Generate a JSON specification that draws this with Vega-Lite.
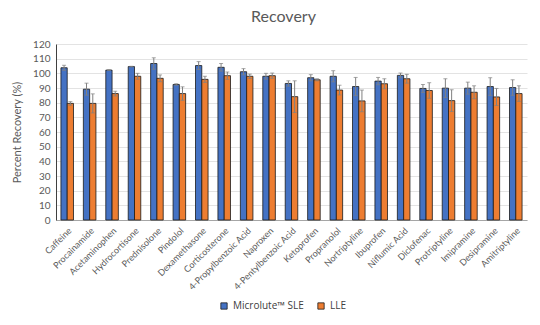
{
  "$schema": "https://vega.github.io/schema/vega-lite/v6.json",
  "width": 471,
  "height": 176,
  "autosize": {"type": "none"},
  "padding": {"left": 56, "top": 44, "right": 13, "bottom": 105},
  "background": "white",
  "title": {"text": "Recovery", "font": "Lato", "fontSize": 16, "fontWeight": "normal", "color": "#595959", "offset": 14, "dx": -8},
  "config": {
    "view": {"stroke": null},
    "font": "Lato",
    "axis": {"labelColor": "#595959", "titleColor": "#595959", "ticks": false, "labelFont": "Lato"},
    "axisY": {"title": "Percent Recovery (%)", "titleFontSize": 11, "titleFontWeight": "normal", "titlePadding": 10, "tickCount": 12, "labelOverlap": false, "labelFontSize": 10, "gridColor": "#e3e3e3", "domainColor": "#404040", "labelPadding": 6}
  },
  "data": {"values": [
    {"drug": "Caffeine", "method": "Microlute™ SLE", "value": 103.8, "lower": 102.1, "upper": 105.5},
    {"drug": "Caffeine", "method": "LLE", "value": 79.5, "lower": 78.3, "upper": 80.7},
    {"drug": "Procainamide", "method": "Microlute™ SLE", "value": 89.2, "lower": 85.1, "upper": 93.3},
    {"drug": "Procainamide", "method": "LLE", "value": 79.5, "lower": 73.0, "upper": 86.0},
    {"drug": "Acetaminophen", "method": "Microlute™ SLE", "value": 102.2, "lower": 101.9, "upper": 102.5},
    {"drug": "Acetaminophen", "method": "LLE", "value": 86.2, "lower": 84.6, "upper": 87.8},
    {"drug": "Hydrocortisone", "method": "Microlute™ SLE", "value": 104.6, "lower": 104.4, "upper": 104.8},
    {"drug": "Hydrocortisone", "method": "LLE", "value": 98.0, "lower": 96.0, "upper": 100.0},
    {"drug": "Prednisolone", "method": "Microlute™ SLE", "value": 106.7, "lower": 102.8, "upper": 110.6},
    {"drug": "Prednisolone", "method": "LLE", "value": 96.6, "lower": 94.3, "upper": 98.9},
    {"drug": "Pindolol", "method": "Microlute™ SLE", "value": 92.4, "lower": 91.9, "upper": 92.9},
    {"drug": "Pindolol", "method": "LLE", "value": 86.2, "lower": 81.6, "upper": 90.8},
    {"drug": "Dexamethasone", "method": "Microlute™ SLE", "value": 105.3, "lower": 102.6, "upper": 108.0},
    {"drug": "Dexamethasone", "method": "LLE", "value": 95.9, "lower": 93.8, "upper": 98.0},
    {"drug": "Corticosterone", "method": "Microlute™ SLE", "value": 104.1, "lower": 101.5, "upper": 106.7},
    {"drug": "Corticosterone", "method": "LLE", "value": 98.4, "lower": 95.9, "upper": 100.9},
    {"drug": "4-Propylbenzoic Acid", "method": "Microlute™ SLE", "value": 101.1, "lower": 99.0, "upper": 103.2},
    {"drug": "4-Propylbenzoic Acid", "method": "LLE", "value": 98.0, "lower": 96.5, "upper": 99.5},
    {"drug": "Naproxen", "method": "Microlute™ SLE", "value": 98.0, "lower": 96.0, "upper": 100.0},
    {"drug": "Naproxen", "method": "LLE", "value": 98.4, "lower": 96.6, "upper": 100.2},
    {"drug": "4-Pentylbenzoic Acid", "method": "Microlute™ SLE", "value": 93.1, "lower": 91.3, "upper": 94.9},
    {"drug": "4-Pentylbenzoic Acid", "method": "LLE", "value": 84.1, "lower": 73.3, "upper": 94.9},
    {"drug": "Ketoprofen", "method": "Microlute™ SLE", "value": 97.0, "lower": 94.9, "upper": 99.1},
    {"drug": "Ketoprofen", "method": "LLE", "value": 95.6, "lower": 94.9, "upper": 96.3},
    {"drug": "Propranolol", "method": "Microlute™ SLE", "value": 98.0, "lower": 94.2, "upper": 101.8},
    {"drug": "Propranolol", "method": "LLE", "value": 88.6, "lower": 85.3, "upper": 91.9},
    {"drug": "Nortriptyline", "method": "Microlute™ SLE", "value": 91.0, "lower": 84.8, "upper": 97.2},
    {"drug": "Nortriptyline", "method": "LLE", "value": 81.2, "lower": 73.8, "upper": 88.6},
    {"drug": "Ibuprofen", "method": "Microlute™ SLE", "value": 94.7, "lower": 92.2, "upper": 97.2},
    {"drug": "Ibuprofen", "method": "LLE", "value": 92.9, "lower": 89.5, "upper": 96.3},
    {"drug": "Niflumic Acid", "method": "Microlute™ SLE", "value": 98.6, "lower": 97.0, "upper": 100.2},
    {"drug": "Niflumic Acid", "method": "LLE", "value": 96.3, "lower": 93.3, "upper": 99.3},
    {"drug": "Diclofenac", "method": "Microlute™ SLE", "value": 89.7, "lower": 87.0, "upper": 92.4},
    {"drug": "Diclofenac", "method": "LLE", "value": 88.3, "lower": 83.0, "upper": 93.6},
    {"drug": "Protriptyline", "method": "Microlute™ SLE", "value": 89.9, "lower": 83.5, "upper": 96.3},
    {"drug": "Protriptyline", "method": "LLE", "value": 81.4, "lower": 74.0, "upper": 88.8},
    {"drug": "Imipramine", "method": "Microlute™ SLE", "value": 89.9, "lower": 85.8, "upper": 94.0},
    {"drug": "Imipramine", "method": "LLE", "value": 87.1, "lower": 82.7, "upper": 91.5},
    {"drug": "Desipramine", "method": "Microlute™ SLE", "value": 91.0, "lower": 85.0, "upper": 97.0},
    {"drug": "Desipramine", "method": "LLE", "value": 83.9, "lower": 78.1, "upper": 89.7},
    {"drug": "Amitriptyline", "method": "Microlute™ SLE", "value": 90.3, "lower": 85.0, "upper": 95.6},
    {"drug": "Amitriptyline", "method": "LLE", "value": 86.2, "lower": 80.9, "upper": 91.5}
  ]},
  "encoding": {
    "x": {
      "field": "drug", "type": "nominal", "sort": null,
      "scale": {"paddingInner": 0.44, "paddingOuter": 0.22},
      "axis": {"title": null, "labelAngle": -45, "labelFontSize": 9, "domainColor": "#a6a6a6", "labelPadding": 6, "labelOverlap": false}
    },
    "xOffset": {"field": "method", "type": "nominal", "sort": ["Microlute™ SLE", "LLE"]}
  },
  "layer": [
    {
      "mark": {"type": "bar", "stroke": "#1a1a1a", "strokeWidth": 0.8},
      "encoding": {
        "y": {
          "field": "value", "type": "quantitative", "title": "Percent Recovery (%)",
          "scale": {"domain": [0, 120]}
        },
        "color": {
          "field": "method", "type": "nominal", "sort": ["Microlute™ SLE", "LLE"],
          "scale": {"domain": ["Microlute™ SLE", "LLE"], "range": ["#4472C4", "#ED7D31"]},
          "legend": {"title": null, "orient": "none", "direction": "horizontal", "legendX": 163, "legendY": 257, "symbolType": "square", "symbolSize": 40, "symbolStrokeColor": "#1a1a1a", "symbolStrokeWidth": 0.8, "labelFontSize": 10, "labelColor": "#404040", "labelFont": "Open Sans", "columnPadding": 12}
        }
      }
    },
    {
      "mark": {"type": "rule", "color": "#808080", "strokeWidth": 1},
      "encoding": {
        "y": {"field": "lower", "type": "quantitative", "title": "Percent Recovery (%)"},
        "y2": {"field": "upper"}
      }
    },
    {
      "mark": {"type": "tick", "color": "#808080", "size": 4, "thickness": 1, "orient": "horizontal"},
      "encoding": {"y": {"field": "upper", "type": "quantitative", "title": "Percent Recovery (%)"}}
    },
    {
      "mark": {"type": "tick", "color": "#808080", "size": 4, "thickness": 1, "orient": "horizontal"},
      "encoding": {"y": {"field": "lower", "type": "quantitative", "title": "Percent Recovery (%)"}}
    }
  ]
}
